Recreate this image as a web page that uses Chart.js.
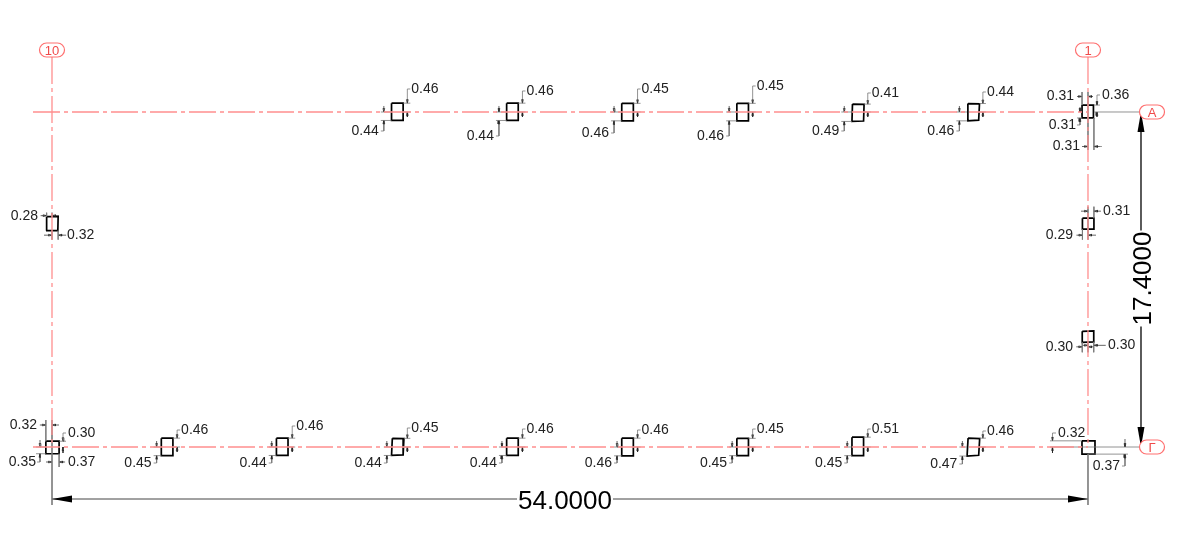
<!DOCTYPE html>
<html><head><meta charset="utf-8">
<style>html,body{margin:0;padding:0;background:#fff}canvas{display:block}</style>
<script src="https://cdn.jsdelivr.net/npm/chart.js@4"></script>
</head><body><canvas id="c" width="1200" height="540"></canvas>
<script>
// ---- values (metres) ----
const spanLength = 54.0;
const spanWidth = 17.4;
const gridLabelsX = ['10', '1'];
const gridLabelsY = ['А', 'Г'];
const topRowX = [18, 24, 30, 36, 42, 48];
const topRowUpper = [0.46, 0.46, 0.45, 0.45, 0.41, 0.44];
const topRowLower = [0.44, 0.44, 0.46, 0.46, 0.49, 0.46];
const bottomRowX = [6, 12, 18, 24, 30, 36, 42, 48];
const bottomRowUpper = [0.46, 0.46, 0.45, 0.46, 0.46, 0.45, 0.51, 0.46];
const bottomRowLower = [0.45, 0.44, 0.44, 0.44, 0.46, 0.45, 0.45, 0.47];
const midY = [11.6, 5.8];
const cornerBL = {left: 0.32, right: 0.37, up: 0.30, down: 0.35};
const cornerTR = {left: 0.31, right: 0.31, up: 0.36, down: 0.31};
const cornerBR = {up: 0.32, down: 0.37};
const midLeft = {topLeft: 0.28, bottomRight: 0.32};
const midRightA = {right: 0.31, left: 0.29};
const midRightB = {right: 0.30, left: 0.30};

// ---- leader placement (screen offsets from each column's axis) ----
const topLabelUp = [-23, -21, -23, -26, -19, -20];
const topLabelDown = [19, 24, 21, 24, 19, 19];
const bottomLabelUp = [-17, -21, -19, -18, -17, -18, -18, -16];
const bottomLabelDown = [16, 16, 16, 16, 16, 16, 16, 17];
const topSkew = [0, 0, 0, 0, 0.5, 0.8];
const bottomSkew = [0, 0, 0.8, 0, 0, 0, 0, 1];

const UX = 1 / 19.185, UY = 1 / 19.253, HALF = 5.8;
const red = '#ff8f8f', redDark = '#f04a4a', gray = '#777', ink = '#222';

const boxes = [], ext = [], tiny = [], texts = [];
const P = (ax, ay, dx, dy) => ({x: ax + dx * UX, y: ay - dy * UY});
const poly = (arr, ax, ay, pts) => {
  pts.forEach(p => arr.push(P(ax, ay, p[0], p[1])));
  arr.push({x: NaN, y: NaN});
};
function arrow(ax, ay, dx, dy, dir, tail) {
  const v = {d: [0, 1], u: [0, -1], l: [-1, 0], r: [1, 0]}[dir];
  const bx = dx - v[0] * 3.5, by = dy - v[1] * 3.5, nx = v[1] * 0.9, ny = v[0] * 0.9;
  poly(tiny, ax, ay, [[dx, dy], [bx + nx, by + ny], [bx - nx, by - ny], [dx, dy]]);
  poly(tiny, ax, ay, [[dx, dy], [dx - v[0] * (tail || 6), dy - v[1] * (tail || 6)]]);
}
function txt(ax, ay, dx, dy, v, align) {
  texts.push({pos: P(ax, ay, dx, dy), t: v.toFixed(2), align});
}
function box(ax, ay, l, r, u, d, skew) {
  const s = skew || 0;
  poly(boxes, ax, ay, [[-l + s, -u], [r + s, -u + s * 0.4], [r, d - s * 0.8], [-l, d], [-l + s, -u]]);
}
function column(ax, ay, up, lo, lu, ld, xl, s) {
  const uy = -up / UY, ly = lo / UY, xr = 10;
  box(ax, ay, HALF, HALF, -uy, ly, s);
  poly(ext, ax, ay, [[HALF + s, uy], [xr + 3, uy]]);
  poly(ext, ax, ay, [[HALF, 0], [xr + 3, 0]]);
  arrow(ax, ay, xr, uy, 'd', 4);
  arrow(ax, ay, xr, 0, 'u', 5);
  poly(ext, ax, ay, [[xr, uy - 4], [xr, lu], [xr + 3, lu]]);
  txt(ax, ay, xr + 4, lu, up, 'left');
  poly(ext, ax, ay, [[xl - 3, ly], [-HALF, ly]]);
  poly(ext, ax, ay, [[xl - 3, 0], [-HALF, 0]]);
  arrow(ax, ay, xl, 0, 'd', 6);
  arrow(ax, ay, xl, ly, 'u', 4);
  poly(ext, ax, ay, [[xl, ly + 4], [xl, ld], [xl - 3, ld]]);
  txt(ax, ay, xl - 5, ld, lo, 'right');
}
topRowX.forEach((x, i) => column(x, spanWidth, topRowUpper[i], topRowLower[i], topLabelUp[i], topLabelDown[i], -13.5, topSkew[i]));
bottomRowX.forEach((x, i) => column(x, 0, bottomRowUpper[i], bottomRowLower[i], bottomLabelUp[i], bottomLabelDown[i], -10.5, bottomSkew[i]));

// lower-left corner
(function () {
  const c = cornerBL, a = 0, b = 0, L = -c.left / UX, R = c.right / UX, U = -c.up / UY, D = c.down / UY;
  box(a, b, -L, R, -U, D);
  poly(ext, a, b, [[0, -27], [0, 58]]);
  poly(ext, a, b, [[L, -27], [L, U]]);
  poly(ext, a, b, [[R, D], [R, 20]]);
  arrow(a, b, L, -22, 'r', 6); arrow(a, b, 0, -22, 'l', 7);
  txt(a, b, -15, -22, c.left, 'right');
  poly(ext, a, b, [[-16, 0], [L, 0]]);
  poly(ext, a, b, [[-16, D], [L, D]]);
  arrow(a, b, -12, 0, 'd', 7); arrow(a, b, -12, D, 'u', 4);
  poly(ext, a, b, [[-12, D + 4], [-12, 15], [-15, 15]]);
  txt(a, b, -16, 15, c.down, 'right');
  poly(ext, a, b, [[R, U], [14, U]]);
  arrow(a, b, 11, U, 'd', 4); arrow(a, b, 11, 0, 'u', 6);
  poly(ext, a, b, [[11, U - 4], [11, -14], [14, -14]]);
  txt(a, b, 16, -14, c.up, 'left');
  arrow(a, b, 0, 15, 'r', 6); arrow(a, b, R, 15, 'l', 6);
  txt(a, b, 16, 15, c.right, 'left');
})();

// upper-right corner
(function () {
  const c = cornerTR, a = spanLength, b = spanWidth, L = -c.left / UX, R = c.right / UX, U = -c.up / UY, D = c.down / UY;
  box(a, b, -L, R - 0.5, -U, D);
  poly(ext, a, b, [[0, -20], [0, 38]]);
  poly(ext, a, b, [[L, -20], [L, U]]);
  poly(ext, a, b, [[R, D], [R, 38]]);
  poly(ext, a, b, [[R, 0], [57, 0]]);
  arrow(a, b, L, -15.5, 'r', 5); arrow(a, b, 0, -15.5, 'l', 5);
  txt(a, b, -14, -15.5, c.left, 'right');
  arrow(a, b, 9, U, 'd', 4); arrow(a, b, 9, 0, 'u', 5);
  poly(ext, a, b, [[R, U], [12, U]]);
  poly(ext, a, b, [[9, U - 4], [9, -17], [12, -17]]);
  txt(a, b, 14, -17, c.up, 'left');
  poly(ext, a, b, [[-11, D], [L, D]]);
  arrow(a, b, -8, 0, 'd', 5); arrow(a, b, -8, D, 'u', 4);
  poly(ext, a, b, [[-8, D + 4], [-8, 13], [-11, 13]]);
  txt(a, b, -12, 13, c.down, 'right');
  arrow(a, b, 0, 34.5, 'r', 6); arrow(a, b, R, 34.5, 'l', 6);
  poly(ext, a, b, [[R + 6, 34.5], [R + 8, 34.5]]);
  txt(a, b, -8, 34.5, c.right, 'right');
})();

// lower-right corner
(function () {
  const c = cornerBR, a = spanLength, b = 0, U = -c.up / UY, D = c.down / UY;
  box(a, b, 6, 7, -U, D);
  poly(ext, a, b, [[-38, 0], [57, 0]]);
  poly(ext, a, b, [[-38, U], [-6, U]]);
  poly(ext, a, b, [[0, D], [0, 58]]);
  poly(ext, a, b, [[0, D], [40, D]]);
  arrow(a, b, -35.5, U, 'd', 4); arrow(a, b, -35.5, 0, 'u', 6);
  poly(ext, a, b, [[-35.5, U - 4], [-35.5, -14], [-32, -14]]);
  txt(a, b, -30, -14, c.up, 'left');
  arrow(a, b, 37, 0, 'd', 8); arrow(a, b, 37, D, 'u', 5);
  poly(ext, a, b, [[37, D + 4], [37, 19], [34, 19]]);
  txt(a, b, 32, 19, c.down, 'right');
})();

// side columns
(function () {
  const a = 0, b = midY[0], L = -midLeft.topLeft / UX, R = midLeft.bottomRight / UX;
  poly(boxes, a, b, [[L, -7], [R, -7], [R - 0.3, 7], [-6, 7], [L, -7]]);
  poly(ext, a, b, [[L, -11], [L, -7]]);
  poly(ext, a, b, [[0, -11], [0, -7]]);
  arrow(a, b, L, -8, 'r', 6); arrow(a, b, 0, -8, 'l', 7);
  txt(a, b, -14, -8, midLeft.topLeft, 'right');
  poly(ext, a, b, [[R, 7], [R, 16]]);
  poly(ext, a, b, [[0, 7], [0, 16]]);
  arrow(a, b, 0, 11.5, 'r', 8); arrow(a, b, R, 11.5, 'l', 8);
  txt(a, b, 15, 11.5, midLeft.bottomRight, 'left');
})();
(function () {
  const a = spanLength, b = midY[0], L = -midRightA.left / UX, R = midRightA.right / UX;
  box(a, b, -L, R, 5.5, 5.5);
  poly(ext, a, b, [[R, -17], [R, -5.5]]);
  poly(ext, a, b, [[0, -17], [0, 16]]);
  arrow(a, b, 0, -12.5, 'r', 7); arrow(a, b, R, -12.5, 'l', 7);
  txt(a, b, 15, -12.5, midRightA.right, 'left');
  poly(ext, a, b, [[L, 5.5], [L, 16]]);
  arrow(a, b, L, 11.5, 'r', 6); arrow(a, b, 0, 11.5, 'l', 8);
  txt(a, b, -15, 11.5, midRightA.left, 'right');
})();
(function () {
  const a = spanLength, b = midY[1], L = -midRightB.left / UX, R = midRightB.right / UX;
  poly(boxes, a, b, [[L, -4], [R, -4.5], [R, 6.5], [L, 7], [L, -4]]);
  poly(ext, a, b, [[L, 7], [L, 17]]);
  poly(ext, a, b, [[R, 6.5], [R, 17]]);
  poly(ext, a, b, [[0, 7], [0, 17]]);
  arrow(a, b, L, 11.5, 'r', 6); arrow(a, b, 0, 11.5, 'l', 6);
  txt(a, b, -15, 11.5, midRightB.left, 'right');
  arrow(a, b, 0, 10, 'r', 6); arrow(a, b, R, 10, 'l', 12);
  txt(a, b, 20, 10, midRightB.right, 'left');
})();

const axisLines = [
  {x: -19 * UX, y: spanWidth}, {x: spanLength, y: spanWidth}, {x: NaN, y: NaN},
  {x: -19 * UX, y: 0}, {x: spanLength, y: 0}
];
const axisVert = [
  {x: 0, y: 390 * UY}, {x: 0, y: 0}, {x: NaN, y: NaN},
  {x: spanLength, y: 390 * UY}, {x: spanLength, y: 0}
];
const dimY = -52 * UY, dimX = spanLength + 53 * UX;
const dims = [
  {x: 0, y: dimY}, {x: spanLength, y: dimY}, {x: NaN, y: NaN},
  {x: dimX, y: spanWidth}, {x: dimX, y: 0}
];
const ds = (data, color, w, dash) => ({data, borderColor: color, borderWidth: w, borderDash: dash || [],
  showLine: true, pointRadius: 0, spanGaps: false, fill: false, tension: 0});

const drawingPlugin = {
  id: 'drawing',
  afterDatasetsDraw(chart) {
    const c = chart.ctx, sx = chart.scales.x, sy = chart.scales.y;
    const X = v => sx.getPixelForValue(v), Y = v => sy.getPixelForValue(v);
    c.save();
    c.fillStyle = '#000';
    const head = (x, y, dx, dy) => {
      c.beginPath(); c.moveTo(x, y);
      c.lineTo(x + dx * 20 - dy * 3.5, y + dy * 20 - dx * 3.5);
      c.lineTo(x + dx * 20 + dy * 3.5, y + dy * 20 + dx * 3.5);
      c.closePath(); c.fill();
    };
    head(X(0), Y(dimY), 1, 0); head(X(spanLength), Y(dimY), -1, 0);
    head(X(dimX), Y(spanWidth), 0, 1); head(X(dimX), Y(0), 0, -1);
    c.font = '14px "Liberation Sans"'; c.fillStyle = ink; c.textBaseline = 'middle';
    texts.forEach(t => { c.textAlign = t.align; c.fillText(t.t, X(t.pos.x), Y(t.pos.y)); });
    c.font = '26px "Liberation Sans"'; c.textAlign = 'center';
    const tx = X(spanLength / 2) - 5, ty = Y(dimY);
    const w1 = c.measureText(spanLength.toFixed(4)).width;
    c.fillStyle = '#fff'; c.fillRect(tx - w1 / 2 - 1, ty - 10, w1 + 2, 20);
    c.fillStyle = '#000'; c.fillText(spanLength.toFixed(4), tx, ty + 3);
    const rx = X(dimX) + 1, ry = Y(spanWidth / 2) - 1;
    c.save(); c.translate(rx, ry); c.rotate(-Math.PI / 2);
    c.fillStyle = '#fff'; c.fillRect(-w1 / 2 - 1, -14, w1 + 2, 24);
    c.fillStyle = '#000'; c.fillText(spanWidth.toFixed(4), 0, 2);
    c.restore();
    const bubble = (x, y, t) => {
      c.beginPath(); c.roundRect(x - 12.5, y - 7, 25, 14, 7);
      c.fillStyle = '#fff'; c.fill();
      c.strokeStyle = '#ff7070'; c.lineWidth = 1.2; c.stroke();
      c.font = '13px "Liberation Sans"'; c.fillStyle = redDark;
      c.textAlign = 'center'; c.fillText(t, x, y + 1);
    };
    bubble(X(0), Y(397 * UY), gridLabelsX[0]);
    bubble(X(spanLength), Y(397 * UY), gridLabelsX[1]);
    bubble(X(spanLength + 64 * UX), Y(spanWidth), gridLabelsY[0]);
    bubble(X(spanLength + 64 * UX), Y(0), gridLabelsY[1]);
    c.restore();
  }
};

new Chart(document.getElementById('c'), {
  type: 'scatter',
  data: {datasets: [
    ds(axisLines, red, 1.3, [27, 4, 4, 4]),
    ds(axisVert, red, 1.3, [27, 4, 4, 4]),
    ds(ext, gray, 0.8),
    ds(dims, '#444', 1),
    ds(tiny, '#222', 0.7),
    ds(boxes, '#000', 1.7)
  ]},
  options: {
    responsive: false, animation: false, devicePixelRatio: 1,
    layout: {padding: 0},
    plugins: {legend: {display: false}, tooltip: {enabled: false}, title: {display: false}},
    scales: {
      x: {type: 'linear', display: false, min: -52 * UX, max: 1148 * UX},
      y: {type: 'linear', display: false, min: -93 * UY, max: 447 * UY}
    }
  },
  plugins: [drawingPlugin]
});
</script></body></html>
